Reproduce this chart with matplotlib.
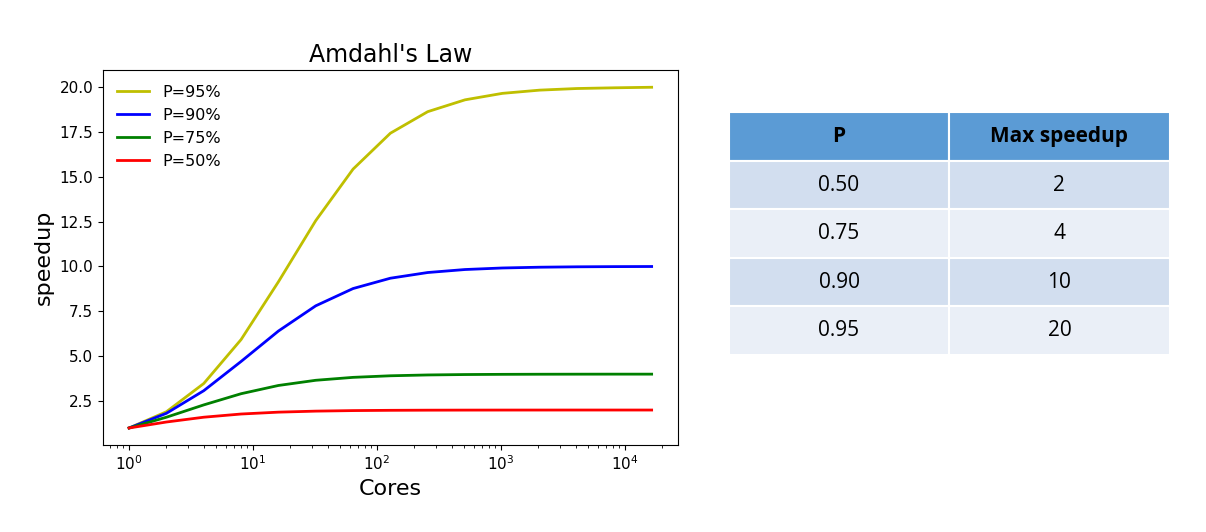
import matplotlib
matplotlib.use("Agg")
import matplotlib.pyplot as plt
from matplotlib.patches import Rectangle

cores = [1, 2, 4, 8, 16, 32, 64, 128, 256, 512, 1024, 2048, 4096, 8192, 16384]
speedup_95 = [1, 1.905, 3.478, 5.926, 9.143, 12.55, 15.42, 17.42, 18.62, 19.28, 19.64, 19.82, 19.91, 19.95, 19.98]
speedup_90 = [1, 1.818, 3.077, 4.706, 6.4, 7.805, 8.767, 9.343, 9.66, 9.827, 9.913, 9.956, 9.978, 9.989, 9.995]
speedup_75 = [1, 1.6, 2.286, 2.909, 3.368, 3.657, 3.82, 3.908, 3.954, 3.977, 3.988, 3.994, 3.997, 3.999, 3.999]
speedup_50 = [1, 1.333, 1.6, 1.778, 1.882, 1.939, 1.969, 1.984, 1.992, 1.996, 1.998, 1.999, 2.0, 2.0, 2.0]

table_header = ["P", "Max speedup"]
table_p = ["0.50", "0.75", "0.90", "0.95"]
table_max = ["2", "4", "10", "20"]

fig = plt.figure(figsize=(12.06, 5.32), dpi=100)
ax = fig.add_axes([0.0854, 0.1635, 0.4766, 0.7045])
ax.plot(cores, speedup_95, color="y", lw=2, label="P=95%")
ax.plot(cores, speedup_90, color="b", lw=2, label="P=90%")
ax.plot(cores, speedup_75, color="g", lw=2, label="P=75%")
ax.plot(cores, speedup_50, color="r", lw=2, label="P=50%")
ax.set_xscale("log")
ax.set_yticks([2.5, 5.0, 7.5, 10.0, 12.5, 15.0, 17.5, 20.0])
ax.tick_params(labelsize=11)
ax.set_title("Amdahl's Law", fontsize=17)
ax.set_xlabel("Cores", fontsize=16)
ax.set_ylabel("speedup", fontsize=16)
ax.legend(loc="upper left", frameon=False, fontsize=11.5)

# table drawn as rectangles
tab = fig.add_axes([0.6045, 0.333, 0.3655, 0.456])
tab.set_xlim(0, 1)
tab.set_ylim(0, 5)
tab.axis("off")
split = 0.499
rows = [table_header] + list(zip(table_p, table_max))
for i, row in enumerate(rows):
    y = 4 - i
    if i == 0:
        face = "#5b9bd5"
    elif i % 2 == 1:
        face = "#d2deef"
    else:
        face = "#eaeff7"
    for j, (x0, w) in enumerate([(0, split), (split, 1 - split)]):
        tab.add_patch(Rectangle((x0, y), w, 1, facecolor=face, edgecolor="white", lw=1.5))
        tab.text(x0 + w / 2, y + 0.5, row[j], ha="center", va="center",
                 fontsize=15, family="Open Sans",
                 fontweight="bold" if i == 0 else "normal",
                 color="black")

fig.savefig("out.png", dpi=100)
